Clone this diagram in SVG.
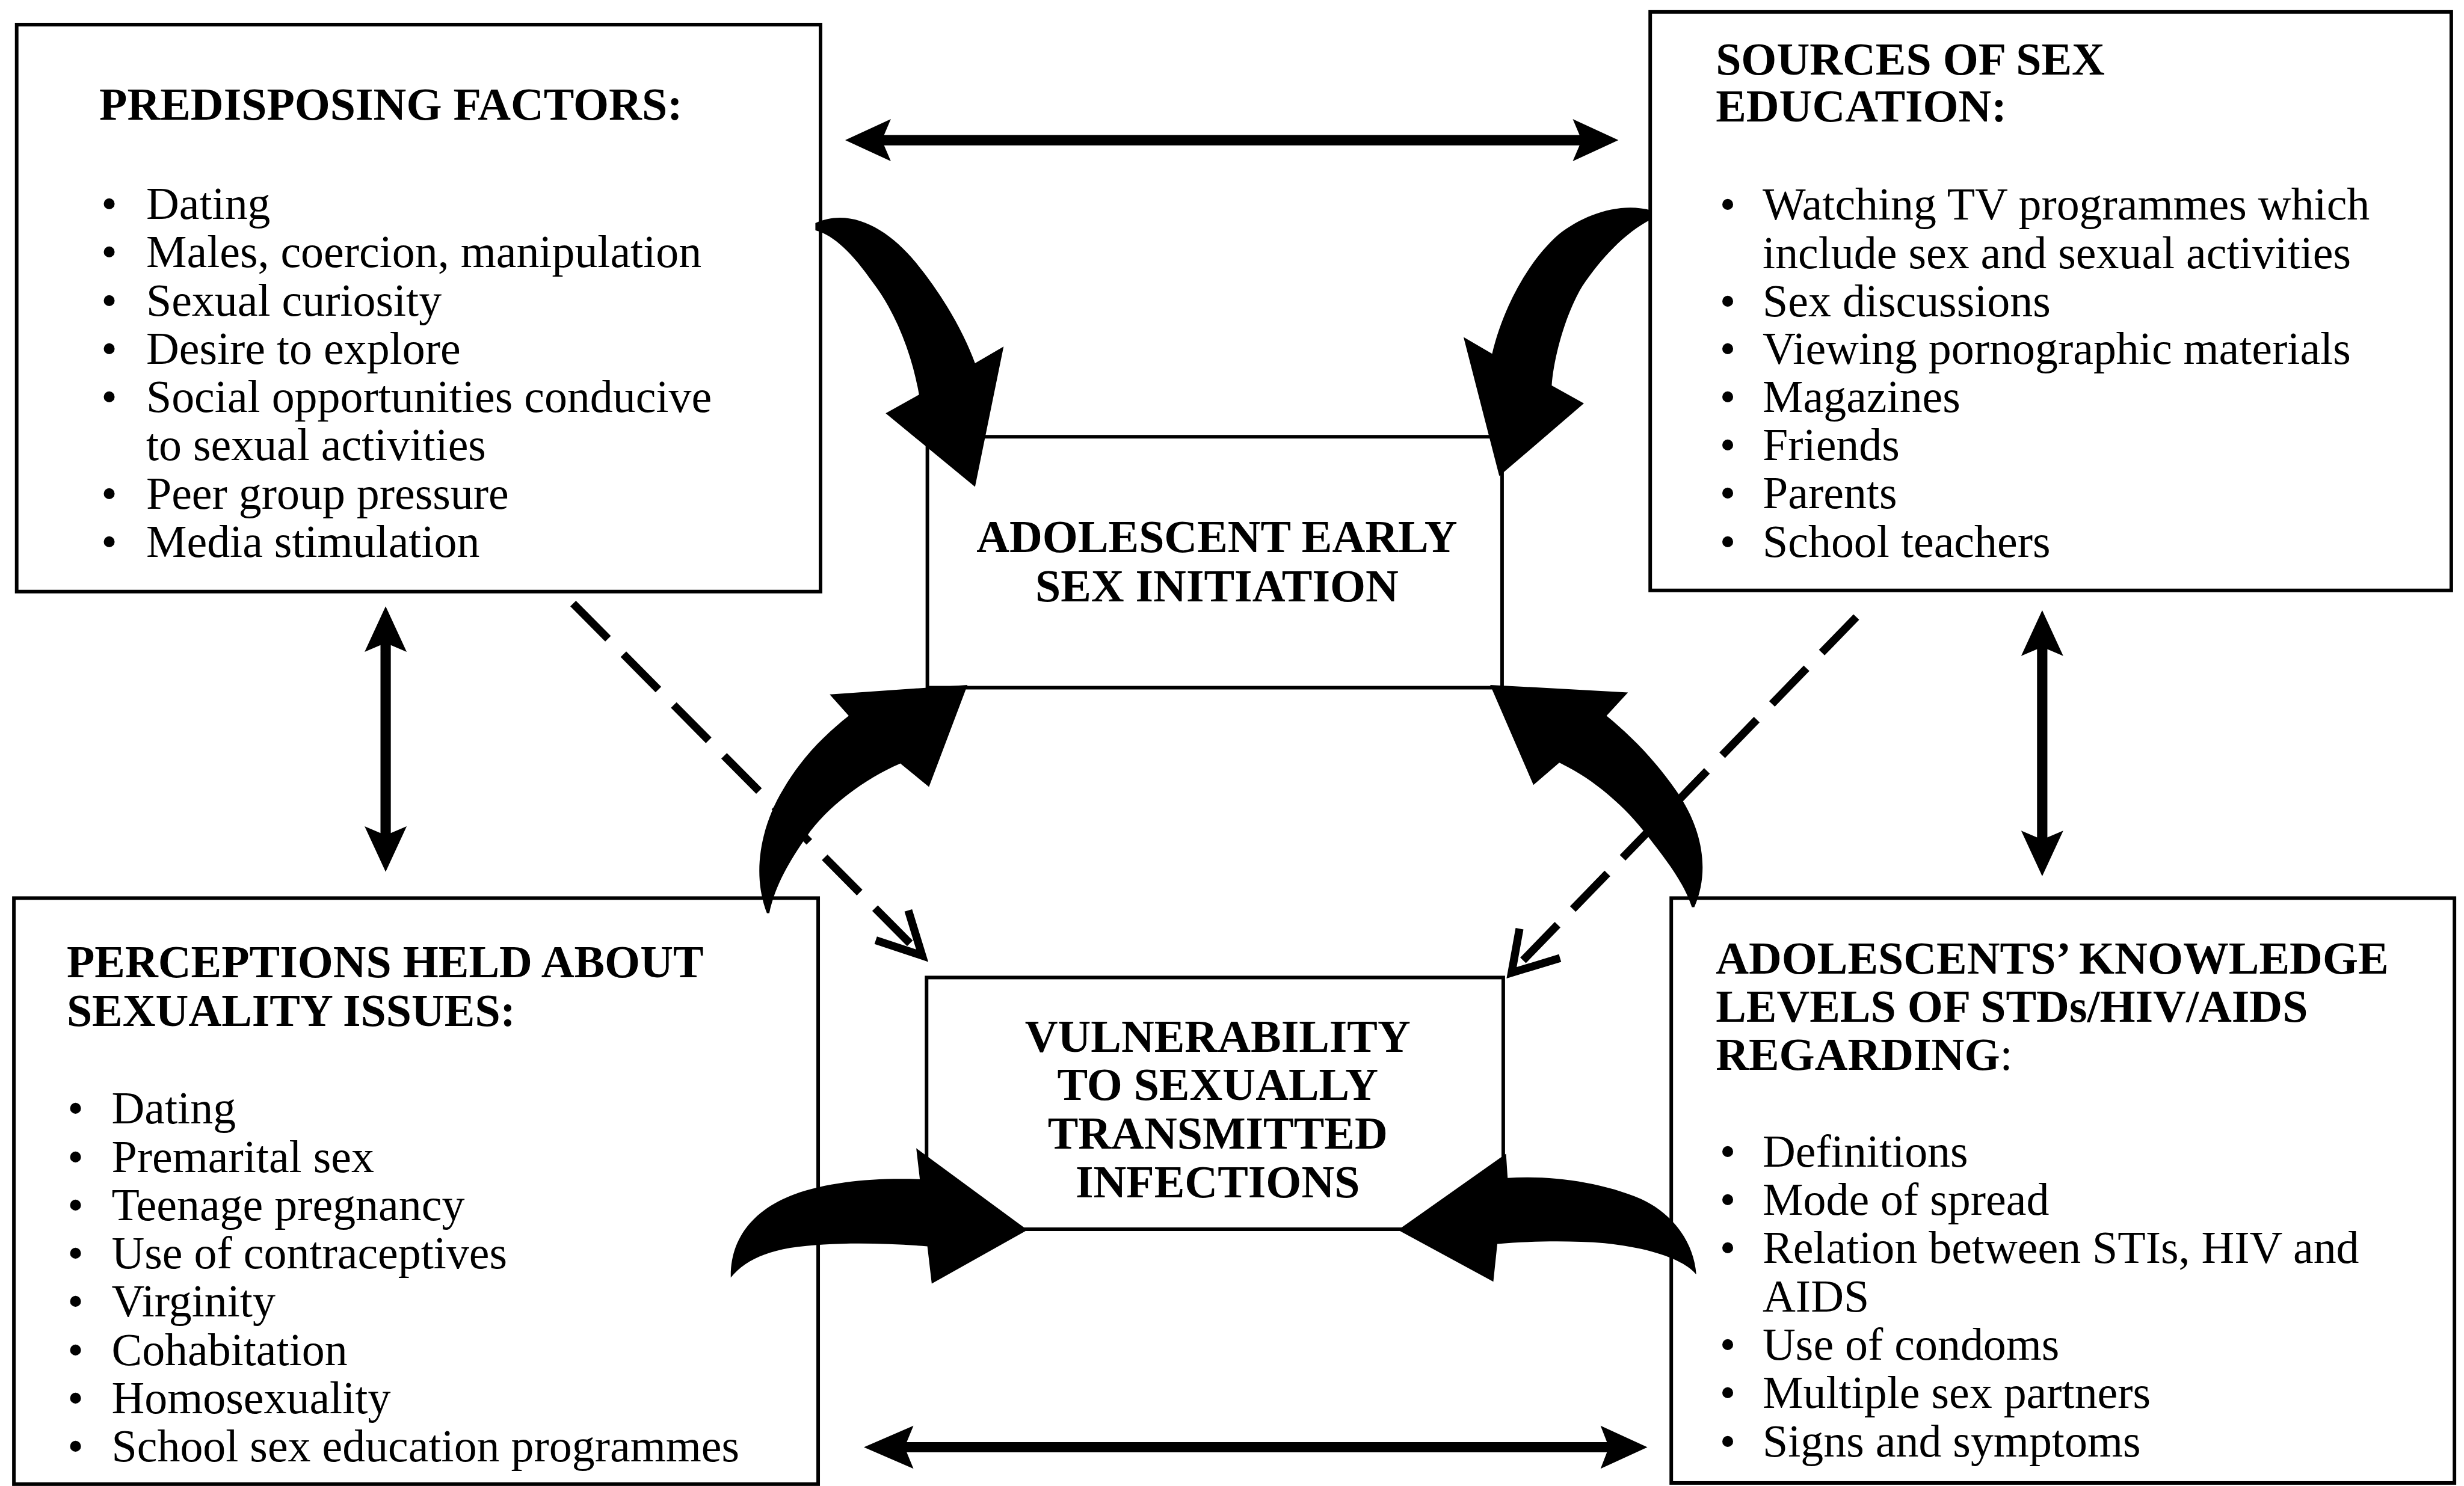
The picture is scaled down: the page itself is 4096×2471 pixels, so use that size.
<svg xmlns="http://www.w3.org/2000/svg" width="4096" height="2471" viewBox="0 0 4096 2471">
<style>
.box{fill:#fff;stroke:#000;stroke-width:9}
.t{font-family:"Liberation Serif","Times New Roman",serif;font-size:115px;fill:#000}
.b{font-weight:bold}
.m{text-anchor:middle}
.arr{fill:#000;stroke:none}
.dash{fill:none;stroke:#000;stroke-width:20;stroke-dasharray:125 55}
.head{fill:none;stroke:#000;stroke-width:20;stroke-linejoin:miter;stroke-linecap:butt}
</style>
<rect x="0" y="0" width="4096" height="2471" fill="#fff"/>
<g transform="scale(0.660219)">
<g id="predisposing">
<rect class="box" x="42" y="62" width="2024" height="1428"/>
<text class="t b" x="250" y="301">PREDISPOSING FACTORS:</text>
<g class="t">
<text x="255" y="552">•</text><text x="368" y="552">Dating</text>
<text x="255" y="673">•</text><text x="368" y="673">Males, coercion, manipulation</text>
<text x="255" y="795">•</text><text x="368" y="795">Sexual curiosity</text>
<text x="255" y="916">•</text><text x="368" y="916">Desire to explore</text>
<text x="255" y="1038">•</text><text x="368" y="1038">Social opportunities conducive</text>
<text x="368" y="1159">to sexual activities</text>
<text x="255" y="1281">•</text><text x="368" y="1281">Peer group pressure</text>
<text x="255" y="1402">•</text><text x="368" y="1402">Media stimulation</text>
</g>
</g>
<g id="sources">
<rect class="box" x="4155" y="30" width="2017" height="1457"/>
<text class="t b" x="4320" y="188">SOURCES OF SEX</text>
<text class="t b" x="4320" y="306">EDUCATION:</text>
<g class="t">
<text x="4330" y="553">•</text><text x="4438" y="553">Watching TV programmes which</text>
<text x="4438" y="675">include sex and sexual activities</text>
<text x="4330" y="796">•</text><text x="4438" y="796">Sex discussions</text>
<text x="4330" y="917">•</text><text x="4438" y="917">Viewing pornographic materials</text>
<text x="4330" y="1038">•</text><text x="4438" y="1038">Magazines</text>
<text x="4330" y="1159">•</text><text x="4438" y="1159">Friends</text>
<text x="4330" y="1280">•</text><text x="4438" y="1280">Parents</text>
<text x="4330" y="1402">•</text><text x="4438" y="1402">School teachers</text>
</g>
</g>
<g id="perceptions">
<rect class="box" x="35" y="2262" width="2025" height="1476"/>
<text class="t b" x="168" y="2461">PERCEPTIONS HELD ABOUT</text>
<text class="t b" x="168" y="2584">SEXUALITY ISSUES:</text>
<g class="t">
<text x="170" y="2830">•</text><text x="281" y="2830">Dating</text>
<text x="170" y="2952">•</text><text x="281" y="2952">Premarital sex</text>
<text x="170" y="3073">•</text><text x="281" y="3073">Teenage pregnancy</text>
<text x="170" y="3195">•</text><text x="281" y="3195">Use of contraceptives</text>
<text x="170" y="3316">•</text><text x="281" y="3316">Virginity</text>
<text x="170" y="3438">•</text><text x="281" y="3438">Cohabitation</text>
<text x="170" y="3560">•</text><text x="281" y="3560">Homosexuality</text>
<text x="170" y="3681">•</text><text x="281" y="3681">School sex education programmes</text>
</g>
</g>
<g id="knowledge">
<rect class="box" x="4208" y="2262" width="1972" height="1473"/>
<text class="t b" x="4320" y="2452">ADOLESCENTS’ KNOWLEDGE</text>
<text class="t b" x="4320" y="2573">LEVELS OF STDs/HIV/AIDS</text>
<text class="t" x="4320" y="2694"><tspan class="b">REGARDING</tspan>:</text>
<g class="t">
<text x="4330" y="2938">•</text><text x="4438" y="2938">Definitions</text>
<text x="4330" y="3060">•</text><text x="4438" y="3060">Mode of spread</text>
<text x="4330" y="3181">•</text><text x="4438" y="3181">Relation between STIs, HIV and</text>
<text x="4438" y="3303">AIDS</text>
<text x="4330" y="3425">•</text><text x="4438" y="3425">Use of condoms</text>
<text x="4330" y="3546">•</text><text x="4438" y="3546">Multiple sex partners</text>
<text x="4330" y="3668">•</text><text x="4438" y="3668">Signs and symptoms</text>
</g>
</g>
<g id="initiation">
<rect class="box" x="2335" y="1100" width="1447" height="632"/>
<text class="t b m" x="3064" y="1391">ADOLESCENT EARLY</text>
<text class="t b m" x="3064" y="1514">SEX INITIATION</text>
</g>
<g id="vulnerability">
<rect class="box" x="2333" y="2462" width="1452" height="634"/>
<text class="t b m" x="3066" y="2649">VULNERABILITY</text>
<text class="t b m" x="3066" y="2770">TO SEXUALLY</text>
<text class="t b m" x="3066" y="2893">TRANSMITTED</text>
<text class="t b m" x="3066" y="3015">INFECTIONS</text>
</g>
<g id="connectors">
<polygon class="arr" points="2128,353 2243,300 2226,340 3977,340 3960,300 4075,353 3960,406 3977,366 2226,366 2243,406"/>
<polygon class="arr" points="2175,3645 2300,3591 2283,3632 4046,3632 4030,3591 4148,3645 4030,3699 4046,3658 2283,3658 2300,3699"/>
<polygon class="arr" points="971,1527 1024,1642 984,1625 984,2098 1024,2081 971,2196 918,2081 958,2098 958,1625 918,1642"/>
<polygon class="arr" points="5142,1537 5195,1652 5155,1635 5155,2109 5195,2092 5142,2207 5089,2092 5129,2109 5129,1635 5089,1652"/>
<path class="arr" d="M2053,562 C2140,522 2235,575 2305,660 C2375,745 2428,840 2455,915 L2527,873 L2455,1226 L2230,1041 L2314,994 C2298,900 2258,790 2198,712 C2148,640 2100,592 2053,580 Z"/>
<path class="arr" d="M4158,530 C4080,508 3988,540 3925,590 C3845,660 3783,780 3757,891 L3685,849 L3775,1199 L3988,1016 L3907,971 C3912,900 3942,790 3984,721 C4032,650 4090,587 4158,552 Z"/>
<path class="arr" d="M1931,2300 C1892,2200 1916,2080 1972,1988 C2018,1908 2080,1848 2137,1803 L2089,1749 L2436,1725 L2339,1982 L2267,1923 C2180,1960 2082,2032 2031,2107 C1987,2170 1952,2230 1937,2300 Z"/>
<path class="arr" d="M4266,2285 C4308,2190 4284,2080 4218,1988 C4162,1908 4100,1848 4045,1803 L4099,1744 L3752,1725 L3861,1977 L3926,1921 C4010,1960 4093,2032 4148,2105 C4198,2170 4238,2220 4260,2285 Z"/>
<path class="arr" d="M1840,3218 C1838,3118 1898,3046 2000,3008 C2090,2976 2200,2966 2316,2970 L2307,2892 L2587,3098 L2346,3233 L2335,3139 C2220,3130 2090,3128 1990,3143 C1920,3155 1870,3180 1840,3218 Z"/>
<path class="arr" d="M3520,3098 L3792,2906 L3796,2967 C3900,2960 4030,2976 4132,3020 C4214,3058 4265,3130 4271,3210 C4240,3175 4170,3145 4040,3131 C3950,3124 3850,3126 3770,3133 L3760,3228 Z"/>
<path class="dash" d="M1443,1520 L2305,2390"/>
<polyline class="head" points="2205,2368 2322,2407 2287,2293"/>
<path class="dash" d="M4674,1554 L3822,2432"/>
<polyline class="head" points="3826,2339 3806,2450 3928,2413"/>
</g>
</g>
</svg>
